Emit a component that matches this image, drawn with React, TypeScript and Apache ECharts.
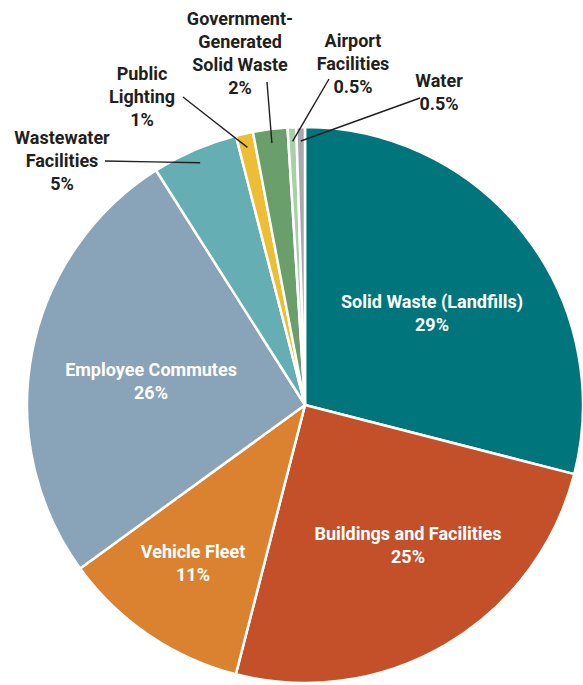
import React, { useEffect, useRef } from "react";
import * as echarts from "echarts";

const categories = [
  "Solid Waste (Landfills)",
  "Buildings and Facilities",
  "Vehicle Fleet",
  "Employee Commutes",
  "Wastewater\nFacilities",
  "Public\nLighting",
  "Government-\nGenerated\nSolid Waste",
  "Airport\nFacilities",
  "Water",
];
const values = [29, 25, 11, 26, 5, 1, 2, 0.5, 0.5];
const colors = ["#00767C", "#C4502A", "#DB8231", "#89A3B9", "#64AEB4", "#EDBE34", "#6A9F6C", "#A9CFA9", "#A7A9AC"];
const insideLabel = [true, true, true, true, false, false, false, false, false];

// label block centres (layout only)
const labelPos: number[][] = [
  [432, 313],
  [408, 545],
  [193, 563],
  [151, 381],
  [62, 160],
  [142, 96],
  [240, 53],
  [353, 63],
  [439, 92],
];
// leader line outer ends (layout only)
const lineEnds: (number[] | null)[] = [
  null, null, null, null,
  [105, 161],
  [183, 97],
  [267, 82],
  [329, 79],
  [420, 98],
];

const CX = 305;
const CY = 405;
const R = 278;
const INSET = 14;

export default function App() {
  const ref = useRef<HTMLDivElement>(null);
  useEffect(() => {
    document.body.style.margin = "0";
    const chart = echarts.init(ref.current!, null, { renderer: "svg" });
    const total = values.reduce((a, b) => a + b, 0);
    const before: number[] = [];
    values.reduce((acc, v, i) => {
      before[i] = acc;
      return acc + v;
    }, 0);
    const baseData = categories.map((name, i) => ({
      name,
      value: values[i],
      itemStyle: { color: colors[i] },
    }));
    const labelData = categories.map((name, i) => ({
      name,
      value: values[i],
      label: insideLabel[i]
        ? { position: "inside", color: "#ffffff" }
        : { position: "outside", color: "#231F20" },
      labelLine: { show: !insideLabel[i] },
    }));
    const common = {
      type: "pie",
      center: [CX, CY],
      radius: R,
      startAngle: 90,
      clockwise: true,
      avoidLabelOverlap: false,
      silent: true,
    };
    chart.setOption({
      animation: false,
      backgroundColor: "#ffffff",
      series: [
        {
          ...common,
          z: 2,
          itemStyle: { borderColor: "#ffffff", borderWidth: 2.5 },
          label: { show: false },
          labelLine: { show: false },
          data: baseData,
        },
        {
          ...common,
          z: 5,
          itemStyle: { color: "rgba(0,0,0,0)", borderWidth: 0 },
          label: {
            show: true,
            formatter: (p: any) => `${p.name}\n${p.value}%`,
            fontFamily: "Roboto",
            fontWeight: "bold",
            fontSize: 18,
            lineHeight: 23,
            align: "center",
          },
          labelLine: {
            show: true,
            showAbove: true,
            smooth: false,
            length: 10,
            length2: 10,
            lineStyle: { color: "#231F20", width: 1.4 },
          },
          labelLayout: (params: any) => {
            const i = params.dataIndex;
            const p = labelPos[i];
            const res: any = { x: p[0], y: p[1], align: "center", verticalAlign: "middle" };
            const end = lineEnds[i];
            if (end) {
              const frac = (before[i] + values[i] / 2) / total;
              const th = frac * Math.PI * 2;
              const start = [CX + (R - INSET) * Math.sin(th), CY - (R - INSET) * Math.cos(th)];
              const mid = [(start[0] + end[0]) / 2, (start[1] + end[1]) / 2];
              res.labelLinePoints = [start, mid, end];
            }
            return res;
          },
          data: labelData,
        },
      ],
    });
    return () => chart.dispose();
  }, []);
  return (
    <div
      ref={ref}
      style={{ position: "absolute", left: 0, top: 0, width: 583, height: 685 }}
    />
  );
}
